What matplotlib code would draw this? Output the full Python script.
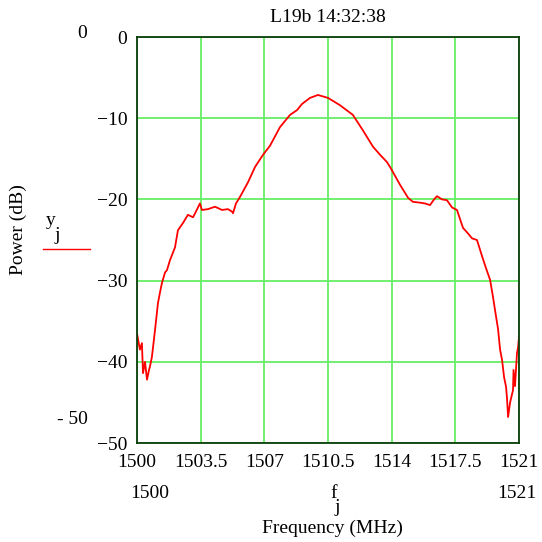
import matplotlib
matplotlib.use("Agg")
import matplotlib.pyplot as plt

plt.rcParams['font.family'] = ['Liberation Serif', 'DejaVu Serif']

# spectrum
freq = [1500.00, 1500.16, 1500.27, 1500.33, 1500.44, 1500.55, 1500.66, 1500.71,
        1500.82, 1500.99, 1501.15, 1501.26, 1501.37, 1501.54, 1501.65, 1501.81,
        1502.09, 1502.25, 1502.53, 1502.80, 1503.08, 1503.24, 1503.46, 1503.57,
        1503.90, 1504.29, 1504.67, 1505.00, 1505.22, 1505.28, 1505.44, 1505.66,
        1506.10, 1506.49, 1506.93, 1507.31, 1507.86, 1508.41, 1508.80, 1509.07,
        1509.51, 1509.95, 1510.50, 1511.16, 1511.87, 1512.42, 1512.97, 1513.36,
        1513.74, 1513.91, 1514.46, 1514.90, 1515.17, 1515.56, 1515.83, 1516.11,
        1516.33, 1516.49, 1516.77, 1517.04, 1517.32, 1517.59, 1517.92, 1518.20,
        1518.42, 1518.69, 1518.97, 1519.19, 1519.41, 1519.57, 1519.68, 1519.85,
        1519.96, 1520.07, 1520.18, 1520.29, 1520.34, 1520.40, 1520.51, 1520.67,
        1520.70, 1520.78, 1520.89, 1520.95, 1521.00]
power = [-36.5, -38.5, -37.7, -41.4, -40.0, -42.2, -41.0, -40.6,
         -39.4, -36.1, -32.8, -31.5, -30.3, -29.0, -28.7, -27.5,
         -25.9, -23.8, -22.9, -21.9, -22.2, -21.5, -20.5, -21.3,
         -21.2, -20.9, -21.3, -21.2, -21.5, -21.7, -20.5, -19.7,
         -17.9, -16.0, -14.5, -13.4, -11.1, -9.6, -9.0, -8.25,
         -7.5, -7.14, -7.5, -8.4, -9.6, -11.5, -13.5, -14.5,
         -15.4, -16.0, -18.2, -19.8, -20.3, -20.4, -20.5, -20.7,
         -20.0, -19.6, -20.0, -20.1, -21.0, -21.3, -23.5, -24.2,
         -24.8, -25.0, -27.0, -28.5, -29.9, -32.0, -33.6, -36.0,
         -38.5, -39.8, -41.9, -43.1, -44.5, -46.8, -45.0, -43.5,
         -41.0, -43.0, -38.9, -38.2, -37.0]

xticks = [1500, 1503.5, 1507, 1510.5, 1514, 1517.5, 1521]
xlabels = ['1500', '1503.5', '1507', '1510.5', '1514', '1517.5', '1521']
yticks = [0, -10, -20, -30, -40, -50]

W = 542
fig = plt.figure(figsize=(5.42, 5.42), dpi=100)
ax = fig.add_axes([137 / W, 1 - 443 / W, 382 / W, 406 / W])

ax.plot(freq, power, color='red', lw=1.3)
ax.set_xlim(1500, 1521)
ax.set_ylim(-50, 0)
ax.set_xticks(xticks)
ax.set_xticklabels(xlabels)
ax.set_yticks(yticks)
ax.tick_params(length=0, labelsize=14, pad=7)
ax.tick_params(axis='x', pad=8)
ax.grid(True, color='#66ee66', lw=1.3)
ax.set_axisbelow(True)
for s in ax.spines.values():
    s.set_color('#0b3d0b')
    s.set_linewidth(1.3)

# Mathcad style title, limit labels and axis names
fs = 14
fig.text(328 / W, 1 - 17 / W, 'L19b 14:32:38', fontsize=fs, ha='center', va='center')
fig.text(82 / W, 1 - 33 / W, '0', fontsize=fs, ha='center', va='center')
fig.text(72 / W, 1 - 420 / W, '- 50', fontsize=fs, ha='center', va='center')
fig.text(150 / W, 1 - 494 / W, '1500', fontsize=fs, ha='center', va='center')
fig.text(517 / W, 1 - 494 / W, '1521', fontsize=fs, ha='center', va='center')
fig.text(334 / W, 1 - 493 / W, 'f', fontsize=fs, ha='center', va='center')
fig.text(337 / W, 1 - 508 / W, 'j', fontsize=fs, ha='center', va='center')
fig.text(332 / W, 1 - 528 / W, 'Frequency (MHz)', fontsize=fs, ha='center', va='center')
fig.text(18 / W, 1 - 230 / W, 'Power (dB)', fontsize=fs, ha='center', va='center',
         rotation=90)
fig.text(51 / W, 1 - 220 / W, 'y', fontsize=fs, ha='center', va='center')
fig.text(57 / W, 1 - 235 / W, 'j', fontsize=fs, ha='center', va='center')
fig.add_artist(plt.Line2D([43 / W, 90 / W], [1 - 249 / W, 1 - 249 / W],
                          color='red', lw=1.0, transform=fig.transFigure))

fig.savefig('out.png', dpi=100)
